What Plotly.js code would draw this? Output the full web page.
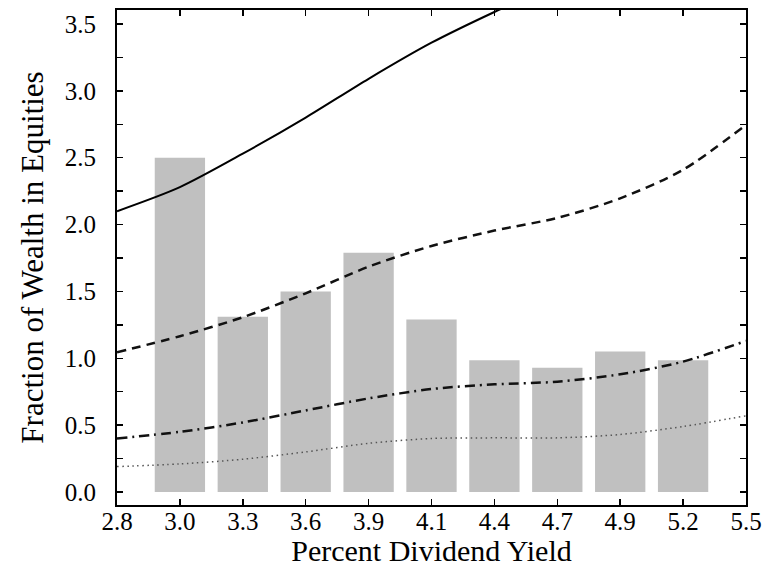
<!DOCTYPE html>
<html>
<head>
<meta charset="utf-8">
<script src="https://cdn.plot.ly/plotly-3.0.1.min.js"></script>
<style>html,body{margin:0;padding:0;background:#fff;}#chart{width:770px;height:567px;}</style>
</head>
<body>
<div id="chart"></div>
<script>
// Tick labels of the (evenly spaced) dividend-yield axis
const yieldLabels = ['2.8','3.0','3.3','3.6','3.9','4.1','4.4','4.7','4.9','5.2','5.5'];
// Bars: observed fraction of wealth in equities per yield bucket
const barCategories = ['3.0','3.3','3.6','3.9','4.1','4.4','4.7','4.9','5.2'];
const barValues = [2.50, 1.31, 1.50, 1.79, 1.29, 0.985, 0.93, 1.05, 0.985];
// Model curves, sampled at each yield tick label
const solidLabels = ['2.8','3.0','3.3','3.6','3.9','4.1','4.4','4.7'];
const solidValues = [2.10, 2.28, 2.53, 2.80, 3.09, 3.36, 3.59, 3.80];
const dashedValues = [1.045, 1.165, 1.307, 1.486, 1.685, 1.84, 1.955, 2.05, 2.196, 2.41, 2.745];
const dashDotValues = [0.40, 0.45, 0.52, 0.61, 0.70, 0.77, 0.805, 0.825, 0.88, 0.975, 1.13];
const dottedValues = [0.19, 0.21, 0.245, 0.30, 0.364, 0.40, 0.405, 0.405, 0.43, 0.49, 0.57];

const pos = lbl => yieldLabels.indexOf(lbl);
const allPos = yieldLabels.map(pos);

const traces = [
  {type:'bar', x: barCategories.map(pos), y: barValues, width: 0.8,
   marker:{color:'#c0c0c0', line:{width:0}}, hoverinfo:'skip'},
  {type:'scatter', mode:'lines', x: solidLabels.map(pos), y: solidValues,
   line:{color:'#000', width:2, shape:'spline', smoothing:0.8}},
  {type:'scatter', mode:'lines', x: allPos, y: dashedValues,
   line:{color:'#111', width:2.5, dash:'9px,6px', shape:'spline', smoothing:0.8}},
  {type:'scatter', mode:'lines', x: allPos, y: dashDotValues,
   line:{color:'#111', width:2.5, dash:'10px,5px,2px,5px', shape:'spline', smoothing:0.8}},
  {type:'scatter', mode:'lines', x: allPos, y: dottedValues,
   line:{color:'#555', width:1.5, dash:'1.5px,3.5px', shape:'spline', smoothing:0.8}}
];

const fontFam = '"Liberation Serif", "Times New Roman", serif';
const layout = {
  width: 770, height: 567,
  margin: {l:117, r:24, t:10, b:62, pad:0},
  paper_bgcolor:'#fff', plot_bgcolor:'#fff',
  showlegend:false,
  font:{family:fontFam, color:'#000', size:25},
  xaxis:{
    range:[0,10], tickmode:'array', tickvals: allPos, ticktext: yieldLabels,
    ticks:'inside', ticklen:6, tickwidth:1.5, tickcolor:'#000',
    showline:true, linewidth:2, linecolor:'#000', mirror:'ticks',
    showgrid:false, zeroline:false, fixedrange:true,
    ticklabelstandoff: -7,
    tickfont:{family:fontFam, size:25, color:'#000'},
    title:{text:'Percent Dividend Yield', font:{family:fontFam, size:30, color:'#000'}, standoff:10}
  },
  yaxis:{
    range:[-0.0972, 3.6047], tickmode:'linear', tick0:0, dtick:0.5, tickformat:'.1f',
    ticks:'inside', ticklen:6, tickwidth:1.5, tickcolor:'#000',
    minor:{dtick:0.25, tick0:0, ticks:'inside', ticklen:6, tickwidth:1.5, tickcolor:'#000', showgrid:false},
    showline:true, linewidth:2, linecolor:'#000', mirror:'ticks',
    showgrid:false, zeroline:false, fixedrange:true,
    ticklabelstandoff: 14,
    tickfont:{family:fontFam, size:25, color:'#000'},
    title:{text:'Fraction of Wealth in Equities', font:{family:fontFam, size:31, color:'#000'}, standoff:12}
  }
};

Plotly.newPlot('chart', traces, layout, {displayModeBar:false, staticPlot:true});
</script>
</body>
</html>
